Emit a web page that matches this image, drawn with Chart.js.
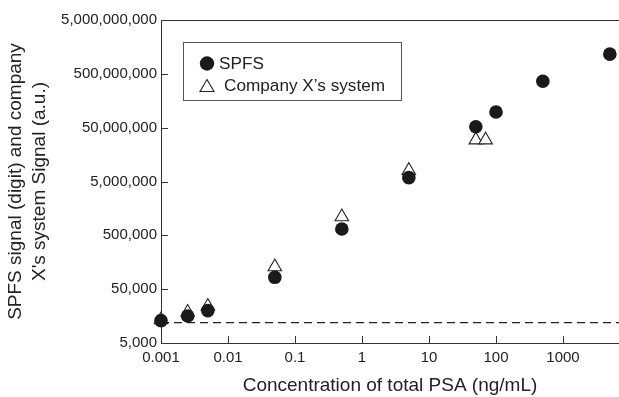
<!DOCTYPE html>
<html lang="en">
<head>
    <meta charset="UTF-8">
    <title>SPFS vs Company X signal</title>
    <script src="https://cdn.jsdelivr.net/npm/chart.js"></script>
    <style>
        body { margin: 0; background: #fff; }
        #wrap { position: relative; width: 619px; height: 397px; }
        #legend {
            position: absolute; left: 183px; top: 42px; width: 219px; height: 59px;
            border: 1px solid #555; font-family: "Liberation Sans", Arial, sans-serif;
            font-size: 17.2px; color: #222; padding-top: 9px; box-sizing: border-box;
        }
        #legend div { height: 22px; display: flex; align-items: center; padding-left: 15px; }
        #legend .sym { width: 16px; height: 15px; margin-right: 4px; display: inline-block; }
        #legend div + div .sym { margin-right: 9px; }
    </style>
</head>
<body>
<div id="wrap">
    <canvas id="chart" width="619" height="397"></canvas>
    <div id="legend"></div>
</div>
<script>
    // concentrations (ng/mL) and signals
    const concSpfs = [0.001, 0.0025, 0.005, 0.05, 0.5, 5, 50, 100, 500, 5000];
    const signalSpfs = [13000, 15900, 20000, 83000, 655000, 5900000, 52000000, 98000000, 365000000, 1160000000];
    const concCompany = [0.001, 0.0025, 0.005, 0.05, 0.5, 5, 50, 70];
    const signalCompany = [13500, 18600, 24000, 130000, 1100000, 8000000, 29500000, 29500000];
    const cutoff = 12000; // dashed background level
    const seriesNames = ['SPFS', 'Company X\u2019s system'];
    const xTicks = [0.001, 0.01, 0.1, 1, 10, 100, 1000];
    const yTicks = [5000, 50000, 500000, 5000000, 50000000, 500000000, 5000000000];
    const xMin = 0.001, xMax = 6850;

    const ink = '#222';
    const fontFamily = '"Liberation Sans", Arial, sans-serif';

    // legend box (html overlay, like the boxed legend in the figure)
    const legendSyms = [
        '<svg class="sym" viewBox="0 0 16 15"><circle cx="8" cy="7.5" r="7.2" fill="#1a1a1a"/></svg>',
        '<svg class="sym" viewBox="0 0 16 15"><polygon points="8,1.5 15,13.5 1,13.5" fill="#fff" stroke="#222" stroke-width="1.1"/></svg>'
    ];
    document.getElementById('legend').innerHTML = seriesNames
        .map((n, i) => '<div>' + legendSyms[i] + '<span>' + n + '</span></div>').join('');

    // top frame line + inward tick marks
    const frame = {
        id: 'frame',
        afterDatasetsDraw(chart) {
            const {ctx, chartArea: a, scales: {x, y}} = chart;
            ctx.save();
            ctx.strokeStyle = '#333';
            ctx.lineWidth = 1;
            ctx.beginPath();
            ctx.moveTo(a.left, a.top + 0.5);
            ctx.lineTo(a.right, a.top + 0.5);
            x.ticks.forEach(t => {
                const px = Math.round(x.getPixelForValue(t.value)) + 0.5;
                ctx.moveTo(px, a.bottom);
                ctx.lineTo(px, a.bottom - 7);
            });
            y.ticks.forEach(t => {
                const py = Math.round(y.getPixelForValue(t.value)) + 0.5;
                ctx.moveTo(a.left, py);
                ctx.lineTo(a.left + 7, py);
            });
            ctx.stroke();
            ctx.restore();
        }
    };

    new Chart(document.getElementById('chart'), {
        type: 'scatter',
        data: {
            datasets: [{
                label: seriesNames[0],
                data: concSpfs.map((c, i) => ({x: c, y: signalSpfs[i]})),
                pointStyle: 'circle',
                pointRadius: 6.8,
                backgroundColor: '#1a1a1a',
                borderColor: '#1a1a1a',
                borderWidth: 0,
                clip: false
            }, {
                label: seriesNames[1],
                data: concCompany.map((c, i) => ({x: c, y: signalCompany[i]})),
                pointStyle: 'triangle',
                pointRadius: 7.8,
                backgroundColor: '#fff',
                borderColor: ink,
                borderWidth: 1.1,
                clip: false
            }, {
                type: 'line',
                label: 'cutoff',
                data: [{x: xMin, y: cutoff}, {x: xMax, y: cutoff}],
                borderColor: ink,
                borderWidth: 1.3,
                borderDash: [8, 5],
                pointRadius: 0,
                clip: false
            }]
        },
        options: {
            responsive: false,
            animation: false,
            layout: {autoPadding: false, padding: {top: 20, right: 0, left: 0, bottom: 0}},
            plugins: {
                legend: {display: false},
                tooltip: {enabled: false}
            },
            scales: {
                x: {
                    type: 'logarithmic',
                    min: xMin,
                    max: xMax,
                    afterBuildTicks: s => { s.ticks = xTicks.map(v => ({value: v})); },
                    afterFit: s => { s.height = 54; s.paddingLeft = 0; s.paddingRight = 0; },
                    ticks: {
                        callback: v => String(v),
                        color: ink,
                        font: {family: fontFamily, size: 15},
                        padding: 6,
                        maxRotation: 0,
                        autoSkip: false
                    },
                    grid: {display: false, drawTicks: false},
                    border: {display: true, color: '#333', width: 1},
                    title: {
                        display: true,
                        text: 'Concentration of total PSA (ng/mL)',
                        color: ink,
                        font: {family: fontFamily, size: 19},
                        padding: {top: 0, bottom: 0}
                    }
                },
                y: {
                    type: 'logarithmic',
                    min: 5000,
                    max: 5000000000,
                    afterBuildTicks: s => { s.ticks = yTicks.map(v => ({value: v})); },
                    afterFit: s => { s.width = 161; s.paddingTop = 0; s.paddingBottom = 0; },
                    ticks: {
                        callback: v => Number(v).toLocaleString('en-US'),
                        color: ink,
                        font: {family: fontFamily, size: 15},
                        padding: 4,
                        autoSkip: false
                    },
                    grid: {display: false, drawTicks: false},
                    border: {display: true, color: '#333', width: 1},
                    title: {
                        display: true,
                        text: ['SPFS signal (digit) and company', "X's system Signal (a.u.)"],
                        color: ink,
                        font: {family: fontFamily, size: 19, lineHeight: 1.3},
                        padding: {top: 3, bottom: 0}
                    }
                }
            }
        },
        plugins: [frame]
    });
</script>
</body>
</html>
